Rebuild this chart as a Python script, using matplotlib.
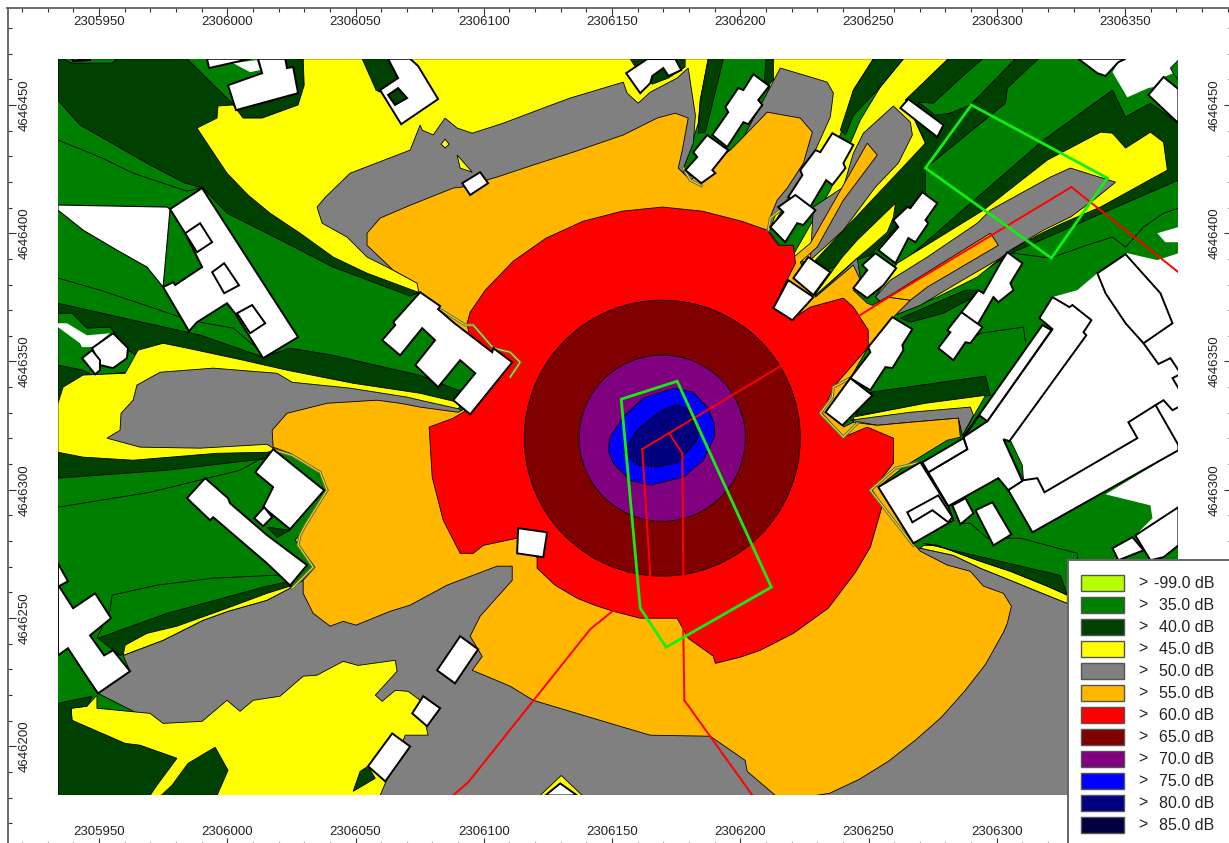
import matplotlib
matplotlib.use('Agg')
import matplotlib.pyplot as plt
from matplotlib.patches import Polygon, Rectangle, Circle

plt.rcParams['font.family'] = ['Liberation Sans', 'DejaVu Sans']

# all map vertices are metres east / north of this origin
EAST0 = 2305900
NORTH0 = 4646150
MAP_E = (34.0, 470.8)
MAP_N = (30.8, 318.0)

x_major = list(range(2305950, 2306351, 50))
x_minor = list(range(2305920, 2306391, 10))
y_major = list(range(4646200, 4646451, 50))
y_minor = list(range(4646170, 4646481, 10))

legend_labels = ['-99.0 dB', '35.0 dB', '40.0 dB', '45.0 dB', '50.0 dB', '55.0 dB',
                 '60.0 dB', '65.0 dB', '70.0 dB', '75.0 dB', '80.0 dB', '85.0 dB']
legend_colors = ['#b7ff00', '#008000', '#004000', '#ffff00', '#808080', '#ffb700',
                 '#ff0000', '#800000', '#800080', '#0000ff', '#000080', '#000040']
C35, C40, C45, C50, C55, C60, C65, C70, C75, C80, C85 = legend_colors[1:]

# 40 dB zones that lie under the yellow ones
d_nw = [(34,318),(84.3,318),(101.9,300.7),(105,290.2),(175.2,227),(171.3,225.5),(141.3,236.8),(115.5,250),(99.9,257.8),(90.6,267.6),(83.6,269.5),(69.9,276.6),(56.3,284.4),(42.6,292.2),(34,301.9)]
d_b1 = [(122.6,318),(129.6,318),(130,305.8),(127.6,300),(113.6,294.9),(106.2,294.9),(103.4,298.8),(124.5,303.9)]
d_west = [(34,222.7),(63.3,216.1),(89.4,210.3),(114,201.7),(124.5,205.2),(141.3,202.4),(154.5,199.3),(175.2,194.6),(194.7,186.9),(175.2,179),(60.2,192.7),(34,183.7)]
d_west_low = [(34,165.4),(116.7,165.4),(116.7,162.3),(76.5,157.6),(34,154.5)]
d_sw_band = [(49.6,92.1),(76.5,101.8),(115.5,112.4),(124.5,114.3),(125.3,111.6),(58.2,85.4)]
d_ne_band = [(359.7,235.6),(418.2,286.3),(445.1,305.8),(450.2,295.3),(459.9,300.7),(470.8,292.9),(470.8,270.7),(437.7,256.3),(406.5,242.6),(385.8,229.7)]
d_strip_e = [(350.7,188),(395.6,194.3),(397.5,186.8),(344.9,179)]
d_b15 = [(362.4,216.9),(366.3,215.3),(379.2,218.8),(390.9,225.1),(392.4,227.8),(387.8,227.8)]
# 35 dB pockets inside the dark zones
g_top = [(35.6,318),(39.5,316.3),(55.1,316.3),(57,318)]
g_west = [(34,218.8),(39.5,218.8),(45.3,213),(54.3,213.4),(61.3,204.4),(64.4,202.5),(61.3,195.8),(47.3,194.7),(43.8,196.6),(34,198.6)]
# 45 dB
y_north = [(127.6,318),(287.5,318),(284.4,301.9),(283.6,292.9),(277.8,274.6),(183,223.9),(174.4,227),(154.5,234.4),(141.3,240.7),(128.4,250),(116.7,257.8),(108.1,264.9),(99.9,273.4),(92.1,285.1),(88.2,291),(96,294.9),(96.4,299.6),(102.3,300),(106.2,294.9),(113.6,294.9),(127.6,300),(130,307.7),(129.6,318)]
y_north2 = [(312.9,318),(351.9,318),(344.1,305.8),(339,288.3),(327.3,274.6),(319.5,264.9),(311.7,251.2),(307.8,282.4)]
y_north3 = [(363.6,318),(381.1,318),(364.4,301.9),(372.2,285.1),(342.9,251.2),(329.3,238.7),(319.5,239.5),(335.1,266.8),(346.8,294.1),(354.6,307)]
y_ne = [(361.2,238.3),(394.8,259),(419.7,278.5),(440.4,289.4),(445.1,289),(450.2,283.2),(459.9,289.4),(465,285.5),(466.5,274.6),(440.4,260.2),(425.6,253.9),(418.2,250.4),(405.3,243.4),(392.4,232.9),(376.8,225.1),(360.5,218.1),(352.7,225.1)]
y_strip_e = [(344.1,178.3),(372.2,183.7),(395.6,186.8),(387.8,173.2),(386.6,171.2),(385,179),(344.1,175.1)]
y_se = [(371.4,128.3),(376.8,128.3),(392.4,122.5),(405.3,118.2),(419.7,112.4),(427.5,108.9),(427.5,105.7),(415.8,110.4),(405.3,114.7),(393.6,119.4),(383.1,124.4),(370.2,127.2)]
y_west = [(34,183.7),(36,190),(43.8,194.7),(60.2,195.4),(65.2,204.4),(75,207.1),(84.3,205.2),(106.2,200.5),(123.3,196.6),(149.1,191.5),(175.2,187.6),(191.6,183.7),(189.6,181),(175.2,177.1),(115.5,164.6),(96,164.2),(63.3,161.5),(43.8,162.7),(34,164.6)]
y_sw_band = [(60.2,89.4),(68.7,94),(80.4,96.8),(99.9,103.8),(115.5,109.6),(124.5,112.4),(124.5,111.6),(115.5,106.9),(100.3,102.6),(90.6,99.1),(75,91.3),(59.4,85.4)]
y_south = [(49.2,69.9),(49.2,64.8),(69.9,62.8),(75,58.9),(90.2,59.7),(99.9,67.9),(105,63.6),(110.1,67.9),(120.6,69.5),(129.6,77.3),(135,77.7),(145.2,83.1),(151,81.5),(165.5,83.5),(166.2,79.2),(157.7,69.9),(160.4,67.5),(165.5,71.8),(170.5,71.4),(175.2,67.9),(178.3,54.3),(169.4,54.3),(159.6,30.8),(66,30.8),(39.5,60.1),(39.1,64.8),(45.3,65.6)]
y_b27 = [(230.2,38.6),(238.4,30.8),(222,30.8)]
# 40 dB zones that lie over the yellow ones
d_b2 = [(152.6,318),(163.5,318),(167.4,307.7),(159.6,305),(158,305.8)]
d_b8 = [(257.1,318),(278.5,318),(278.5,314.8),(272,310.5),(265.7,308.1),(261,311.7)]
d_wedge_a = [(287.5,318),(293.4,318),(289.5,301.9),(286.4,289.4),(283.6,289),(284.4,301.9)]
d_wedge_b = [(310.1,318),(312.9,318),(312.9,309.7),(310.9,307.7),(309.4,309.7)]
d_wedge_c = [(351.9,318),(363.6,318),(354.6,307),(344.1,296),(341,288.3),(339,290.2),(344.1,305.8)]
d_ne_wide = [(381.1,318),(416.2,318),(404.1,306.6),(403.4,300.7),(372.2,275.4),(372.2,264.9),(350.7,241.4),(333.2,235.6),(329.3,239.5),(372.2,285.1),(364.4,301.9)]
d_sw_a = [(34,66.7),(47.3,69.5),(45.3,65.6),(39.1,64.8),(39.5,60.1),(60.2,51.1),(66,50.4),(80.4,45.3),(72.6,34.8),(69.9,30.8),(34,30.8)]
d_sw_b = [(78.5,34.8),(84.7,43.3),(95.3,49.6),(100.3,40.6),(96,30.8),(74.2,30.8)]
d_s_small = [(149.1,32.4),(151.8,40.2),(154.9,42.2),(157.7,37.5)]
d_se = [(371.4,129.1),(424.8,116.6),(427.5,108.9),(419.7,112.4),(405.3,118.2),(392.4,122.5),(376.8,128.3)]
d_court = [(115.5,135.4),(124.5,134.2),(119.4,131.5)]
g_ne_patch = [(369.4,301.1),(375.3,300.7),(385,309.7),(394.4,318),(407.3,318),(389.7,300),(381.9,296.8),(376,296)]
y_between = [(328.5,225.1),(339.8,240.7),(345.6,247.3),(360.5,261.7),(359.7,256.3),(357.3,250.4),(350.7,244.6),(345.6,240.3)]
# 50 dB
grey_north = [(174.4,230.5),(164.7,235.6),(154.5,240.7),(146.7,248.5),(137,253.9),(135,260.2),(138.2,264),(147.9,273.4),(171.3,282.4),(175.2,292.2),(176,290.2),(180.3,288.3),(184.9,294.9),(189.6,291),(195.5,289),(207.6,292.9),(223.2,298.8),(233.7,302.7),(254.4,308.9),(255.9,304.6),(260.2,300.7),(264.9,305),(275.4,310.5),(279.7,314.4),(282.5,296),(281.7,285.1),(277.8,275.4),(277.8,270.7),(296.1,282.4),(300,285.1),(309,301.9),(311.7,307),(315.6,314.4),(327.3,310.9),(333.9,308.9),(336.3,304.6),(335.1,295.3),(328.1,279.7),(323.4,270.7),(319.5,264.9),(313.7,257),(311.3,251.2),(284.4,257),(175.2,247.3)]
grey_lobe = [(359.7,299.6),(366.3,293.3),(367.1,288.3),(361.6,277.3),(352.7,268),(340.2,251.2),(327.3,239.5),(328.5,260.2),(340.2,268),(344.1,281.2),(348,289)]
grey_ne = [(352.7,225.1),(358.5,231.7),(372.9,240.7),(392.4,253.9),(397.5,259),(420.9,271.9),(428.7,275.4),(446.3,269.9),(437.7,262.9),(428.7,256.3),(418.2,251.2),(405.3,243.4),(401.4,240.3),(384.6,230.5),(370.2,221.9),(360.5,218.1)]
grey_west = [(53.1,170.1),(58.2,173.2),(58.6,179.8),(63.3,184.9),(64.8,190.8),(73.8,195.8),(94.5,197.4),(119.4,195.4),(125.3,191.9),(147.9,189.6),(170.1,186.1),(175.2,184.9),(190.8,181.4),(191.6,180.2),(120.6,165.4),(117.9,166.2),(115.5,167.7),(89.4,166.2),(66,166.6)]
grey_strip_e = [(342.9,177.1),(366.3,180.2),(389.7,182.2),(390.9,179),(386.6,171.2),(385,177.9),(366.3,176.3),(353.4,175.1)]
grey_between = [(329.3,225.1),(345.6,240.3),(346.8,232.5),(344.1,227.8)]
grey_south = [(59.4,85.4),(75,91.3),(90.6,99.1),(100.3,102.6),(115.5,106.9),(124.5,111.6),(129.6,114.7),(134.2,120.2),(140.1,122.5),(370.2,127.2),(383.1,124.4),(393.6,119.4),(405.3,114.7),(415.8,110.4),(427.5,105.7),(470.8,95.2),(470.8,30.8),(128.4,30.8),(49.6,70.6),(62.1,79.2)]
y_spot_a = [(184.9,286.7),(186.5,284.7),(184.9,283.2),(183.4,284.7)]
y_spot_b = [(189.6,280.5),(195.5,273.8),(190.8,275.4)]
# 55 dB
orange_main = [(117.9,166.6),(117.5,173.2),(123.3,179.8),(138.9,183.7),(158.4,184.9),(167.4,183.7),(175.2,182.2),(190,180.2),(198.6,184.9),(198.6,196.6),(194.7,204.4),(181,218.1),(175.2,223.9),(174,230.5),(164.7,235.6),(154.5,245.3),(154.5,250),(159.6,255.9),(171.3,260.9),(188.1,267.6),(191.6,268),(205.2,271.9),(219.3,276.6),(234.9,281.6),(254.4,288.3),(267.6,294.9),(274.7,296.8),(279.7,294.9),(277.4,282.4),(275.8,275.4),(280.5,270.7),(296.1,282.4),(300,286.3),(310.5,297.2),(323.4,294.9),(328.1,289.4),(324.6,277.3),(318.3,267.6),(314.4,262.9),(311.7,256.3),(310.9,251.2),(319.5,239.5),(327.3,246.1),(349.5,285.1),(353.4,280.5),(340.2,262.9),(330,244.6),(323.4,238.7),(328.5,227.8),(329.3,225.1),(344.1,237.6),(346.8,231.7),(344.1,227.8),(349.5,222.7),(351.5,221.9),(357.3,225.1),(366.3,223.9),(360.5,218.1),(349.9,205.6),(342.9,193.5),(340.2,174.4),(344.1,176.3),(353.4,175.1),(366.3,176.3),(385,177.9),(385.8,170.5),(380.7,169.3),(363.6,158.8),(353.8,151),(367.5,129.1),(370.2,126),(380.7,120.6),(389.7,118.2),(394.8,112.4),(402.6,109.6),(405.7,104.6),(404.1,97.9),(402.6,94.4),(395.6,81.9),(387.4,71.4),(378.4,61.3),(368.2,52.3),(357.7,44.1),(346.4,37.1),(334.7,31.6),(329.3,30.8),(313.7,30.8),(302.7,40.2),(301.9,44.5),(288.3,53.9),(264.9,54.3),(249.3,58.9),(219.3,67.9),(210.3,73.4),(195.5,79.6),(199.4,85),(194.7,92.9),(198.6,100.7),(211.1,114.7),(211.1,120.2),(205.2,120.2),(185.7,112.8),(171.3,105),(163.5,102.6),(150.2,97.2),(145.2,98.7),(140.1,96.8),(133.5,101.8),(129.6,109.6),(129.6,114.7),(134.2,119.8),(126.5,130.3),(129.2,134.2),(132.3,139.3),(139.3,149.8),(135,157.6),(124.5,164.2)]
orange_ne = [(357.3,225.1),(397.5,250),(400.6,245.3),(372.9,229),(366.3,223.9)]
# 60 dB and the rings round the source
red_zone = [(194.7,219.2),(200.6,227.8),(211.5,239.1),(224.3,248.1),(238.8,254.7),(254,258.6),(269.6,260.2),(285.2,258.6),(300.4,254.7),(310.5,251.2),(314.8,245.3),(320.7,245.3),(321.5,238.3),(315.6,226.6),(319.5,216.1),(327.3,221.2),(340.2,224.7),(344.1,221.2),(349.9,212.2),(349.9,205.6),(336.3,190),(332,179.8),(340.2,170.5),(349.5,174.4),(359.7,170.1),(359.7,160.3),(351.5,149.8),(355.4,143.9),(350.7,127.6),(344.9,117.8),(334.3,103.8),(320.7,94),(307.8,87.4),(300,84.7),(290.3,82.3),(289.5,85.1),(279.7,92.1),(275.4,99.9),(261,99.9),(250.5,102.6),(243.4,104.9),(236.4,107.7),(227.9,112.7),(220.8,119.4),(220.8,123.3),(218.1,128.3),(213,131.1),(199.8,128.3),(195.9,125.2),(190.8,125.2),(184.2,138.1),(179.9,154.9),(178.7,174.4),(188.1,177.9),(192,180.2),(198.6,184.9),(193.5,214.9)]
ring_center = (269.6, 170.1)
ring_65_radius = 53.8
ring_70_radius = 32.4
blue_zone = [(248.5,165.4),(249.3,170.5),(254.4,178.3),(262.2,185.7),(273.9,189.6),(281.7,188),(287.1,182.2),(289.9,175.9),(289.9,170.5),(285.6,161.5),(277.8,154.9),(264.9,151.8),(257.1,153.7),(250.5,160.3)]
navy_zone = [(254.4,164.6),(259.8,173.2),(267.6,179.8),(274.7,183.3),(279.3,181.8),(283.6,172),(283.2,169.3),(275.8,160.7),(267.6,158.8),(259.8,159.6)]
peak_zone = [(269.6,175.6),(270.6,175.2),(269.9,174.7)]

# thin contour lines inside the 35 dB area
contour_lines = [
    [(34,286.3),(50.4,279.7),(63.3,273.4),(84.3,266.4),(89.4,267.6)],
    [(34,232.5),(50.4,227.8),(62.1,223.9),(82.8,216.9)],
    [(89.4,215.3),(102.3,213),(114,203.2)],
    [(34,143.2),(69.9,149),(105,157.6),(113.6,162.3)],
    [(55.1,108.9),(72.6,112.8),(94.5,115.5),(119.4,116.7)],
    [(55.1,108.9),(54.3,103),(49.2,92.1)],
    [(406.5,242.2),(420.9,240.3),(435.3,245.4),(445.1,248.5),(450.2,244.6),(457.2,252.4),(465,257.8),(470.8,259.8)],
    [(390.9,209.1),(393.6,211),(410.4,213.4),(411.2,207.5)],
    [(387,136.9),(389.7,136.9),(396.3,131.1),(409.2,131.1),(431.4,125.2),(431.4,117.4)],
]
# narrow grey and yellow fringes along the facades
fringe_lines = [
    [(118.7,165.4),(125.3,163.4),(136.2,156.8),(138.9,149.8),(130.4,136.1),(128.4,132.3),(127.6,128.4),(133.5,119.8),(125.3,111.6)],
    [(182.2,220.8),(192.8,214.2),(195.9,214.2),(203.7,205.2),(210.3,203.6),(214.2,199.7),(210.3,193.9)],
    [(342.9,193.5),(336.3,190),(335.9,186.1),(331.2,179.8),(340.2,170.5),(345.6,175.9)],
    [(370.2,160.7),(360.5,158.4),(350.7,149.8),(367.5,128.3)],
    [(310.9,251.2),(311.7,255.9),(315.6,259),(320.3,264.9)],
    [(277.8,275.4),(280.5,270.7),(284.8,268.5)],
]

# white ground without a wall line
white_bit = [(102.3,316.3),(108.9,312.8),(112.8,313.6),(111.6,317.5)]
white_west = [(34,214.9),(37.5,214.9),(45.3,210.2),(54.3,211),(47.7,205.6),(43.4,205.6),(42.6,207.1),(34,213.4)]
white_nw = [(34,261),(76.5,260.2),(77.7,259.4),(75,229),(68.7,236.8),(57,243.4),(43.8,251.2),(34,259)]
white_se = [(421.7,225.1),(431.4,227.8),(439.2,234.4),(450.9,242.2),(462.6,239.5),(470.8,242.2),(470.8,167.4),(418.6,149),(410,153.3),(404.9,168.9),(434.9,210.2)]
white_east = [(470.8,165.4),(442.4,148.2),(459.9,143.9),(460.7,138.9),(454,132.2),(470.8,143.2)]
white_ne = [(447.4,316.7),(445.1,312.8),(450.9,303),(459.1,306.6),(461.1,307),(465,310.9),(468.9,312.4),(470.8,314.8),(470.8,318),(450.9,318)]
white_small = [(462.6,250),(470.8,252.4),(470.8,246.5),(465.7,246.5)]
g_sliver = [(402.6,169.3),(405.3,169.3),(410,159.5),(410.4,153.7)]
g_corner = [(467.7,314.4),(470.8,317.5),(470.8,309.7),(468.5,312.8)]

buildings = [
    [(39.5,318),(46.5,318),(46.5,317.5),(39.9,317.1)],
    [(92.1,318),(92.9,314.4),(108.9,318)],
    [(100.3,307.7),(113.6,312.4),(112,318),(122.6,318),(123.3,314.4),(125.7,314.8),(127.6,304.6),(103.4,298)],
    [(162.7,318),(166.6,310.5),(159.6,305.8),(167.8,292.5),(182.2,302.3),(174.4,315.2),(171.3,318)],
    [(77.7,259.4),(90.2,267.6),(127.6,209.5),(114,201.3),(103,218.8),(99.9,222.7),(88.2,215.3),(85.1,211.8),(75,229),(78.9,230.9),(79.7,229.8),(90.2,236.8),(83.6,250)],
    [(83.6,250),(89.4,253.9),(94.1,246.5),(88.2,242.6)],
    [(94.1,234.8),(98.8,238.3),(104.6,229.7),(98.8,226.6)],
    [(103.8,218.8),(109.7,222),(114.8,214.9),(108.9,211)],
    [(47.3,205.2),(55.5,211),(61.3,205.2),(60.9,201.3),(55.5,197.4),(50.4,198.6)],
    [(43.4,201.3),(47.3,204.4),(50.4,200.5),(50.4,196.6),(48.5,195)],
    [(175.2,227),(183,221.6),(182.2,220.4),(188.1,215.3),(203.3,203.6),(203.7,205.2),(211.1,199.7),(194.7,179.4),(188.1,184.9),(196.7,195.4),(190.8,200.5),(182.2,190),(173.3,198.6),(181,208.3),(176,213),(167.4,202.4),(160.4,208.3),(165.5,214.2),(164.7,215.3)],
    [(191.6,269.5),(198.6,273.8),(201.7,269.5),(194.7,264.9)],
    [(255.5,312.4),(263.7,317.9),(274.7,317.9),(277,313.6),(272,311.3),(270,314.4),(265.7,311.3),(264.9,308.5),(261,304.6)],
    [(305.1,312),(311.3,307.4),(307,301.9),(308.6,300),(303.1,292.5),(301.2,293.3),(294.9,283.6),(289.1,288.3),(295.3,297.2),(294.2,299.2),(299.2,306.6),(301.2,305.8)],
    [(287.1,288.3),(295.3,282.4),(289.1,274.6),(290.3,273.4),(284.8,269.5),(278.6,274.6),(283.2,279.7),(281.7,281.6)],
    [(335.9,289),(344.1,284.4),(340.2,277.3),(341,275.4),(335.9,268.8),(333.5,270.7),(326.5,259),(318.7,264.1),(324.2,272.6),(323.4,274.6),(329.3,282.4),(331.2,281.6)],
    [(321.5,264.9),(329.3,259),(324.6,253.2),(322.2,253.9),(317.5,246.5),(311.7,252.4),(316.8,258.2),(314.8,260.2)],
    [(362.4,298.8),(365.5,302.3),(379.2,292.2),(376.8,287.5)],
    [(371,266),(376.8,261.7),(372.2,255.1),(373.3,253.9),(368.3,246.5),(365.5,248.1),(360.5,238.3),(353.8,243.4),(361.6,252.4),(359.7,255.1),(365.1,260.2),(366.3,259.8)],
    [(352.7,242.2),(360.8,236.4),(355.8,229.7),(351.9,226.6),(349.5,224.7),(344.1,228.6),(349.5,235.6),(347.6,237.6)],
    [(326.5,240.7),(335.1,234.8),(328.5,225.9),(320.7,232.5)],
    [(318.7,231.7),(328.5,225.1),(320.3,216.1),(312.9,220.8)],
    [(404.1,242.6),(410,238.3),(405.3,230.5),(406.5,227.8),(400.6,223.1),(398.7,225.1),(392.4,214.2),(386.2,219.2),(392.8,227.8),(394.8,226.6),(401.4,238.3)],
    [(386.2,219.2),(394.4,213.4),(389.7,207.1),(387.8,207.5),(383.1,200.5),(377.2,205.2),(381.9,211.4),(380.7,212.2)],
    [(359.3,217.3),(367.1,212.6),(363.2,206.4),(363.6,204.4),(359.3,197.4),(356.6,197.8),(350.7,188.8),(342.9,193.5),(350.7,203.6),(349.9,205.6)],
    [(342.9,193.5),(351.5,186.8),(339.8,175.1),(333.2,180.2)],
    [(421.7,225.1),(428.3,221.2),(429.5,222),(436.9,216.1),(433.8,211.4),(434.9,210.2),(404.9,168.9),(402.6,169.7),(410,153.3),(404.5,149.8),(400.6,154.5),(381.1,143.6),(373.3,156.8),(388.5,165.8),(387,170.5),(396.3,176.7),(421.7,212.6),(416.6,216.9)],
    [(404.5,149.8),(410.4,153.7),(415.8,154.5),(418.6,149),(454.8,170.1),(451.3,176.3),(461.9,183),(470.8,167.4),(470.8,165.4),(413.9,133.4)],
    [(387,170.5),(417.8,214.2),(421.3,212.2),(396.3,176.7),(393.2,179)],
    [(439.2,234.4),(450.2,241.8),(463.8,226.6),(468.5,214.9),(457.2,207.1),(450.2,214.9),(442.4,226.6)],
    [(454,132.2),(470.8,143.2),(470.8,128.3),(465,123.7),(459.9,122.5)],
    [(445.1,127.2),(452.9,131.5),(457.2,126.4),(447.4,122.5)],
    [(353.8,151),(370.2,160.7),(381.1,143.2),(383.1,138.1),(367.5,129.1)],
    [(365.1,141.2),(377.2,147.8),(382.7,139.3),(381.1,137.3),(374.9,142),(367.1,137.3)],
    [(371,160.7),(387,170.1),(388.5,165.8),(373.3,156.8)],
    [(382.7,143.9),(387.8,146.7),(390.9,140.8),(385.8,136.5)],
    [(391.7,142),(398.3,145.1),(405.7,132.6),(398.7,128.3)],
    [(190.8,92.9),(197.8,87.8),(188.8,74.5),(181.8,79.6)],
    [(176.4,69.5),(183,64.8),(177.9,57.8),(172.1,62.8)],
    [(164.3,55),(171.3,49.9),(161.6,36.3),(154.9,42.2)],
    [(213.4,135),(224.7,133.4),(223.2,123.7),(213,125.2)],
    [(229.8,35.5),(236.4,30.8),(224,30.8)],
    [(91.4,154.5),(100.3,146.7),(101.1,144.7),(115.5,132.3),(131.1,120.6),(124.5,112.7),(115.5,121.3),(94.5,139.3),(93.3,138.1),(84.3,146.7)],
    [(117.9,165.8),(137.8,149.8),(124.5,134.6),(114,143.2),(117.9,151),(110.9,156.8)],
    [(114.4,143.2),(117.5,139.3),(114,135.8),(110.5,138.9)],
    [(34,121.3),(37.9,114.3),(34.4,112.4),(39.9,103.8),(48.5,109.6),(54.7,99.9),(46.5,93.2),(52,85.4),(55.5,87.4),(62.1,79.2),(49.6,70.6),(43.8,79.2),(37.9,88.2),(34,85.4)],
    [(431.8,318),(439.2,312.4),(442.4,311.3),(447.4,316.7),(450.2,318)],
    [(465,310.9),(470.8,306.2),(470.8,292.9),(459.1,303.9)],
]
d_b2_court = [(162.7,303.9),(166.6,306.6),(170.1,302.7),(165.4,300)]
wall_lines = [
    [(457.2,207.1),(463,199),(467.7,201.3),(470.8,196.6)],
    [(470.8,194.7),(468.5,193.5),(470.8,189.6)],
    [(470.8,182.2),(468.5,181),(465,184.9),(461.9,183)],
]

# red line sources and green outlines
red_lines = [
    [(261.8,165.8),(316.4,198.6),(346.8,218.1),(357.3,224.7),(429.1,268),(470.8,234.8)],
    [(261.8,165.8),(264.9,116.7),(265.3,106.9),(250.1,102.6),(241.5,95.6),(193.9,35.9),(188.1,30.9)],
    [(272.3,172),(277.4,164.2),(277.8,117.4),(277.8,94),(278.2,67.9),(304.7,30.9)],
]
green_outlines = [
    [(253.6,185.3),(275.4,192.3),(312.1,112),(271.1,88.6),(261,103.8)],
    [(390.1,300),(443.1,271.5),(421.3,240.3),(372.2,275.4)],
]

fig = plt.figure(figsize=(12.29, 8.43), dpi=100)
ax = fig.add_axes([7.5 / 1229, -3 / 843, 1224.5 / 1229, 838.5 / 843])
ax.set_xlim(EAST0 + 14.33, EAST0 + 491.7)
ax.set_ylim(NORTH0 + 11.1, NORTH0 + 338.0)

map_rect = Rectangle((EAST0 + MAP_E[0], NORTH0 + MAP_N[0]), MAP_E[1] - MAP_E[0], MAP_N[1] - MAP_N[0],
                     facecolor=C35, edgecolor='none', zorder=1)
ax.add_patch(map_rect)


def shift(points):
    return [(EAST0 + p[0], NORTH0 + p[1]) for p in points]


def fill(points, color, z, edge='black', lw=0.6):
    patch = Polygon(shift(points), closed=True, facecolor=color, edgecolor=edge, linewidth=lw, zorder=z)
    ax.add_patch(patch)
    patch.set_clip_path(map_rect)


def ring(radius, color, z):
    patch = Circle((EAST0 + ring_center[0], NORTH0 + ring_center[1]), radius, facecolor=color,
                   edgecolor='black', linewidth=0.6, zorder=z)
    ax.add_patch(patch)
    patch.set_clip_path(map_rect)


def line(points, color, lw, z):
    pts = shift(points)
    drawn, = ax.plot([p[0] for p in pts], [p[1] for p in pts], color=color, linewidth=lw, zorder=z,
                     solid_joinstyle='miter')
    drawn.set_clip_path(map_rect)


for zone in [d_nw, d_b1, d_west, d_west_low, d_sw_band, d_ne_band, d_strip_e, d_b15]:
    fill(zone, C40, 2)
for zone in [g_top, g_west]:
    fill(zone, C35, 3)
fill(grey_south, C50, 3.5)
for zone in [y_north, y_north2, y_north3, y_ne, y_strip_e, y_se, y_west, y_sw_band, y_south, y_b27]:
    fill(zone, C45, 4)
for zone in [d_b2, d_b8, d_wedge_a, d_wedge_b, d_wedge_c, d_ne_wide, d_sw_a, d_sw_b, d_s_small, d_se, d_court]:
    fill(zone, C40, 5)
fill(g_ne_patch, C35, 6)
fill(y_between, C45, 6)
for zone in [grey_north, grey_lobe, grey_ne, grey_west, grey_strip_e, grey_between]:
    fill(zone, C50, 7)
for zone in [y_spot_a, y_spot_b]:
    fill(zone, C45, 8)
for zone in [orange_main, orange_ne]:
    fill(zone, C55, 9)
fill(red_zone, C60, 10)
ring(ring_65_radius, C65, 11)
ring(ring_70_radius, C70, 12)
fill(blue_zone, C75, 13)
fill(navy_zone, C80, 14)
fill(peak_zone, C85, 15, lw=0.3)

for c in contour_lines:
    line(c, 'black', 0.6, 16)
for f in fringe_lines:
    line(f, '#6a6a50', 2.2, 16)
    line(f, C45, 0.6, 16.5)

for zone in [white_bit, white_west, white_se, white_east, white_ne, white_small]:
    fill(zone, 'white', 17, edge='none')
fill(white_nw, 'white', 17, lw=0.8)
fill(g_sliver, C35, 17.5)
fill(g_corner, C35, 18)
for b in buildings:
    fill(b, 'white', 18, lw=1.4)
fill(d_b2_court, C40, 19, lw=1.4)
for w in wall_lines:
    line(w, 'black', 1.4, 19)

for r in red_lines:
    line(r, '#ff0000', 1.4, 20)
for g in green_outlines:
    fill(g, 'none', 21, edge='#0ff00f', lw=2.0)

ax.set_xticks(x_major)
ax.set_xticks(x_minor, minor=True)
ax.set_yticks(y_major)
ax.set_yticks(y_minor, minor=True)
ax.set_xticklabels([str(v) for v in x_major])
ax.set_yticklabels([str(v) for v in y_major])
ax.tick_params(axis='both', which='both', direction='in', top=True, bottom=True, left=True, right=True,
               color='#333333', width=0.8)
ax.tick_params(axis='both', which='major', length=5.8, labelsize=9.5, labelcolor='#222222')
ax.tick_params(axis='both', which='minor', length=2.9)
ax.tick_params(axis='x', which='major', pad=-14.6, labeltop=True, labelbottom=True)
ax.tick_params(axis='y', which='major', pad=-16.5, labelleft=True, labelright=True)
for tick in ax.yaxis.get_major_ticks():
    tick.label1.set_rotation(90)
    tick.label1.set_verticalalignment('center')
    tick.label2.set_rotation(90)
    tick.label2.set_verticalalignment('center')
# the legend box covers these labels in the original, so they are not drawn
ax.xaxis.get_major_ticks()[-1].label1.set_visible(False)
ax.yaxis.get_major_ticks()[0].label2.set_visible(False)
ax.yaxis.get_major_ticks()[1].label2.set_visible(False)
for spine in ax.spines.values():
    spine.set_color('#606060')
    spine.set_linewidth(1.3)

# legend box sits over the lower right corner of the map
leg = fig.add_axes([1068 / 1229, -7 / 843, 172 / 1229, 290 / 843], zorder=5)
leg.set_xlim(0, 172)
leg.set_ylim(290, 0)
leg.set_xticks([])
leg.set_yticks([])
for spine in leg.spines.values():
    spine.set_color('#666666')
    spine.set_linewidth(1.4)
for i in range(len(legend_labels)):
    y = 23 + 22 * i
    leg.add_patch(Rectangle((13, y - 8.3), 43, 16.6, facecolor=legend_colors[i], edgecolor='#555555', linewidth=1.0))
    leg.text(70, y, '>', fontsize=11.5, color='#222222', va='center', ha='left')
    leg.text(146, y, legend_labels[i], fontsize=11.5, color='#222222', va='center', ha='right')

fig.savefig('out.png', dpi=100)
